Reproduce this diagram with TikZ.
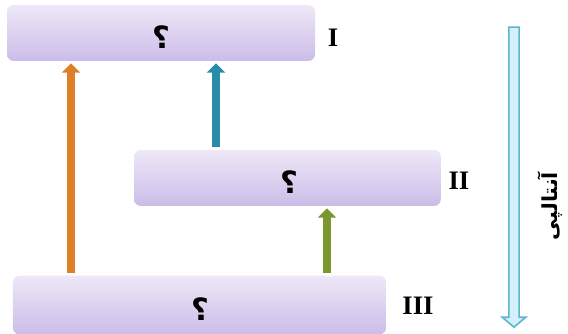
\documentclass[tikz,border=0pt]{standalone}
\usepackage{fontspec}
\setmainfont{Liberation Serif}
\newfontfamily\arabicfont[Script=Arabic]{DejaVu Sans}
\usepackage{xcolor}
\usepackage{tikz}
\usetikzlibrary{arrows.meta,positioning,shapes.arrows}
\TeXXeTstate=1
\definecolor{boxtop}{RGB}{238,232,248}
\definecolor{boxbot}{RGB}{204,188,232}
\definecolor{orangeup}{RGB}{222,128,40}
\definecolor{tealup}{RGB}{40,140,168}
\definecolor{greenup}{RGB}{122,152,48}
\definecolor{downline}{RGB}{92,182,212}
\definecolor{downfill}{RGB}{212,240,250}
\newcommand{\qm}{\arabicfont\bfseries\fontsize{23}{26}\selectfont\beginR ؟\endR}

\begin{document}
\begin{tikzpicture}[
    x=0.75pt, y=-0.75pt,
    level/.style={rounded corners=5pt, top color=boxtop, bottom color=boxbot, draw=none, minimum height=42pt, inner sep=0pt},
    levlabel/.style={font=\bfseries\fontsize{20}{23}\selectfont, inner sep=0pt},
    mark q/.style={inner sep=0pt},
    uparrow/.style={line width=6pt, -{Triangle[width=13.5pt,length=7pt]}, shorten <=2pt, shorten >=1.5pt}
]
\useasboundingbox (0,0) rectangle (568,334);

% Levels
\node[level, minimum width=231pt] (I) at (161,33) {};
\node[level, minimum width=230pt] (II) at (287.5,178) {};
\node[level, minimum width=280pt, minimum height=44pt] (III) at (199.5,305) {};

\node[mark q] (qI) at (161,37) {\qm};
\node[mark q] (qII) at (289,182) {\qm};
\node[mark q] (qIII) at (200,309) {\qm};

\node[levlabel] (lblI) at (333,38) {I};
\node[levlabel] (lblII) at (459,181) {II};
\node[levlabel] (lblIII) at (418,306) {III};

% Transitions
\coordinate (xa) at (71,0);
\coordinate (xb) at (216,0);
\coordinate (xc) at (327,0);
\draw[uparrow, orangeup] (xa |- III.north) -- (xa |- I.south);
\draw[uparrow, tealup] (xb |- II.north) -- (xb |- I.south);
\draw[uparrow, greenup] (xc |- III.north) -- (xc |- II.south);

% Enthalpy axis
\node[single arrow, draw=downline, fill=downfill, line width=1.2pt, rotate=-90,
      minimum height=225pt, inner sep=3.2pt, single arrow head extend=5pt,
      single arrow tip angle=100] (axis) at (514,175) {};
\node[rotate=90, font=\arabicfont\bfseries\fontsize{15.5}{18}\selectfont] (enth) at (550,206) {\beginR آنتالپی\endR};

\end{tikzpicture}
\end{document}
